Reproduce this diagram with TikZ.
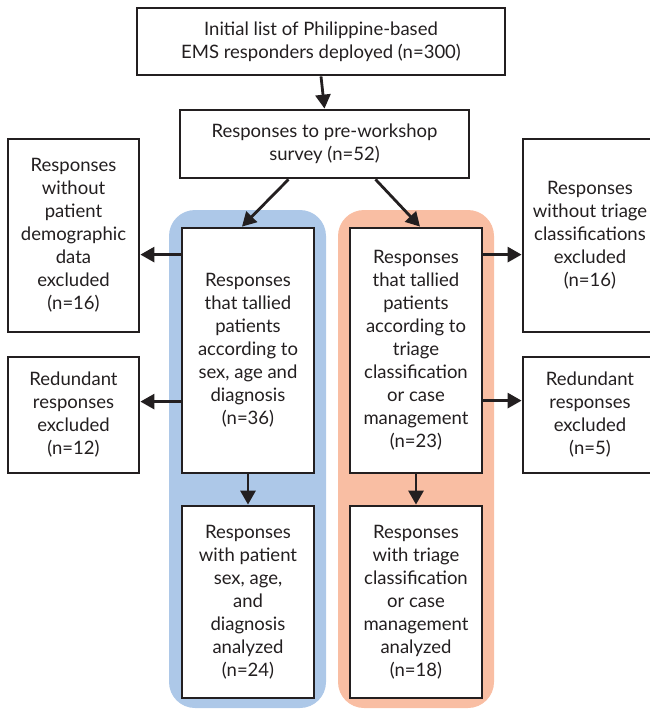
\documentclass[tikz,border=0pt]{standalone}
\usepackage{fontspec}
\setmainfont{Lato}
\usetikzlibrary{arrows.meta}
\definecolor{lineC}{HTML}{231F20}
\definecolor{blueC}{HTML}{ADC8E8}
\definecolor{orangeC}{HTML}{F9BEA3}
\begin{document}
\begin{tikzpicture}[x=1pt,y=-1pt,
  box/.style={draw=lineC,line width=2.8pt,fill=white,align=center,inner sep=0pt,
    font=\fontsize{18.5}{23}\selectfont,text=lineC},
  arr/.style={draw=lineC,line width=2.8pt,-{Triangle[length=14pt,width=15pt]}},
  band/.style={rounded corners=26pt}]
\useasboundingbox (0,0) rectangle (650,713);
\begin{scope}
\clip (0,0) rectangle (650,713);
\fill[blueC,band] (169,210) rectangle (326,708);
\fill[orangeC,band] (338,210) rectangle (494,708);
\node[box,minimum width=368pt,minimum height=67pt] (top) at (321,41.5)
  {Initial list of Philippine-based\\EMS responders deployed (n=300)};
\node[box,minimum width=289pt,minimum height=68pt] (sur) at (324.5,144)
  {Responses to pre-workshop\\survey (n=52)};
\node[box,minimum width=131pt,minimum height=193pt] (l1) at (73.5,235.5)
  {Responses\\without\\patient\\demographic\\data\\excluded\\(n=16)};
\node[box,minimum width=134pt,minimum height=193pt] (r1) at (590,235.5)
  {Responses\\without triage\\classifications\\excluded\\(n=16)};
\node[box,minimum width=131pt,minimum height=116pt] (l2) at (73.5,415)
  {Redundant\\responses\\excluded\\(n=12)};
\node[box,minimum width=134pt,minimum height=116pt] (r2) at (590,415)
  {Redundant\\responses\\excluded\\(n=5)};
\node[box,minimum width=132pt,minimum height=245pt] (b1) at (248,350.5)
  {Responses\\that tallied\\patients\\according to\\sex, age and\\diagnosis\\(n=36)};
\node[box,minimum width=132pt,minimum height=192pt] (b2) at (248,602)
  {Responses\\with patient\\sex, age,\\and\\diagnosis\\analyzed\\(n=24)};
\node[box,minimum width=132pt,minimum height=245pt] (o1) at (416,350.5)
  {Responses\\that tallied\\patients\\according to\\triage\\classification\\or case\\management\\(n=23)};
\node[box,minimum width=132pt,minimum height=192pt] (o2) at (416,602)
  {Responses\\with triage\\classification\\or case\\management\\analyzed\\(n=18)};
\end{scope}
\draw[arr] (top.south) -- (sur.north);
\draw[arr] ([xshift=-36pt]sur.south) -- ([xshift=-6pt]b1.north);
\draw[arr] ([xshift=51pt]sur.south) -- ([xshift=4pt]o1.north);
\draw[arr] (b1.south) -- (b2.north);
\draw[arr] (o1.south) -- (o2.north);
\coordinate (bl1) at ([yshift=-28pt]b1.north west);
\coordinate (bl2) at ([yshift=-175pt]b1.north west);
\coordinate (or1) at ([yshift=-28pt]o1.north east);
\coordinate (or2) at ([yshift=-174pt]o1.north east);
\draw[arr] (bl1) -- (bl1 -| l1.east);
\draw[arr] (bl2) -- (bl2 -| l2.east);
\draw[arr] (or1) -- (or1 -| r1.west);
\draw[arr] (or2) -- (or2 -| r2.west);
\end{tikzpicture}
\end{document}
